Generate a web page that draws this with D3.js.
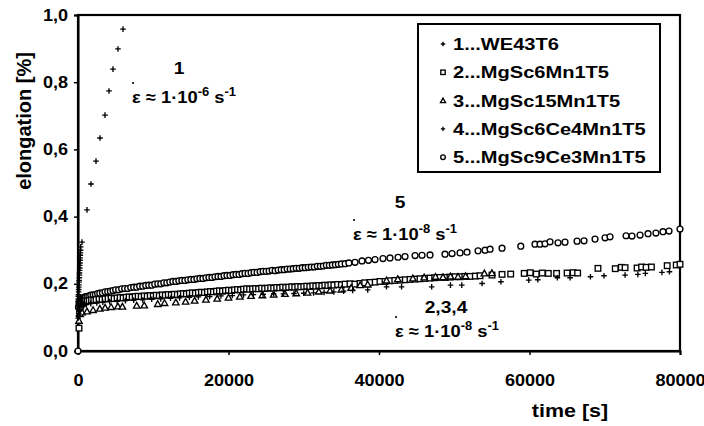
<!DOCTYPE html>
<html><head><meta charset="utf-8">
<script src="https://cdn.jsdelivr.net/npm/d3@7"></script>
<style>
body{margin:0;background:#fff;}
text{font-family:"Liberation Sans",Arial,sans-serif;font-weight:bold;fill:#000;}
</style></head>
<body><svg id="c" width="704" height="426"></svg>
<script>
// ---- data (time [s], elongation [%]) ----
const xTicks = [0, 20000, 40000, 60000, 80000];
const yTicks = [0, 0.2, 0.4, 0.6, 0.8, 1.0];
const legendLabels = ["1...WE43T6","2...MgSc6Mn1T5","3...MgSc15Mn1T5","4...MgSc6Ce4Mn1T5","5...MgSc9Ce3Mn1T5"];
const markerTypes = ["cross","square","triangle","cross","circle"];

const s1_WE43T6 = [[15,0.148],[30,0.155],[45,0.163],[60,0.168],[75,0.176],[90,0.183],[105,0.19],[120,0.197],[135,0.205],[150,0.21],[165,0.218],[180,0.226],[195,0.232],[210,0.24],[225,0.247],[240,0.255],[255,0.262],[270,0.27],[285,0.277],[300,0.285],[320,0.292],[340,0.3],[360,0.31],[532,0.324],[1196,0.42],[1728,0.497],[2392,0.565],[2924,0.634],[3588,0.702],[4120,0.774],[4651,0.839],[5316,0.899],[5980,0.958]];

const s2_MgSc6Mn1T5 = [[130,0.068],[220,0.118],[300,0.13],[400,0.137],[520,0.141],[660,0.143],[820,0.146],[1000,0.148],[1250,0.149],[1500,0.15],[1800,0.152],[2100,0.151],[2400,0.153],[2800,0.154],[3200,0.153],[3600,0.155],[4000,0.156],[4400,0.157],[4800,0.156],[5200,0.158],[5600,0.159],[6000,0.158],[6400,0.16],[6800,0.161],[7200,0.16],[7600,0.162],[8000,0.163],[8400,0.162],[8800,0.164],[9200,0.163],[9600,0.165],[10000,0.164],[10400,0.166],[10800,0.165],[11200,0.167],[11600,0.166],[12000,0.168],[12400,0.167],[12800,0.169],[13200,0.168],[13600,0.17],[14000,0.171],[14400,0.17],[14800,0.172],[15200,0.173],[15600,0.172],[16000,0.174],[16400,0.175],[16800,0.174],[17200,0.176],[17600,0.177],[18000,0.176],[18400,0.178],[18800,0.179],[19200,0.178],[19600,0.18],[20000,0.181],[20400,0.18],[20800,0.182],[21200,0.183],[21600,0.182],[22000,0.184],[22400,0.185],[22800,0.184],[23200,0.185],[23600,0.186],[24000,0.185],[24400,0.187],[24800,0.186],[25200,0.187],[25600,0.188],[26000,0.187],[26400,0.189],[26800,0.188],[27200,0.19],[27600,0.189],[28000,0.19],[28400,0.191],[28800,0.19],[29200,0.192],[29600,0.191],[30000,0.192],[30400,0.193],[30800,0.192],[31200,0.194],[31600,0.193],[32000,0.195],[32400,0.194],[32800,0.196],[33200,0.195],[33600,0.197],[34000,0.196],[34500,0.198],[35000,0.197],[35500,0.199],[36150,0.2],[36800,0.199],[37480,0.201],[38100,0.203],[38800,0.204],[39500,0.205],[40130,0.207],[40800,0.207],[41460,0.209],[42100,0.21],[42800,0.211],[43500,0.212],[44120,0.213],[44800,0.214],[45450,0.215],[46100,0.216],[46780,0.217],[47400,0.218],[48100,0.219],[48800,0.219],[49430,0.22],[50100,0.221],[50770,0.221],[51400,0.222],[52100,0.222],[52800,0.223],[53430,0.224],[55020,0.226],[56350,0.228],[57500,0.229],[59300,0.231],[60100,0.233],[60900,0.229],[61700,0.232],[62500,0.231],[63600,0.231],[65000,0.232],[65800,0.233],[66400,0.232],[69100,0.246],[71400,0.245],[72200,0.249],[72700,0.248],[74300,0.247],[74900,0.25],[75500,0.249],[76200,0.25],[78300,0.254],[79500,0.256],[80000,0.258]];

const s3_MgSc15Mn1T5 = [[130,0.09],[270,0.11],[530,0.115],[1200,0.118],[2000,0.122],[2900,0.126],[3600,0.129],[4400,0.131],[5300,0.133],[5900,0.132],[7800,0.135],[8800,0.136],[10600,0.14],[11500,0.143],[13000,0.145],[14300,0.147],[15500,0.15],[17000,0.153],[18500,0.156],[20000,0.159],[21500,0.162],[23000,0.164],[24500,0.166],[26000,0.168],[27500,0.17],[29000,0.172],[30500,0.174],[32000,0.177],[33500,0.18],[35000,0.183],[36300,0.188],[37500,0.196],[38500,0.198],[41000,0.21],[42500,0.214],[44500,0.216],[46000,0.219],[47500,0.221],[48500,0.22],[49500,0.222],[50500,0.221],[51500,0.223],[54000,0.231],[55000,0.232]];

const s4_MgSc6Ce4Mn1T5 = [[30,0.098],[60,0.105],[90,0.112],[120,0.118],[150,0.124],[200,0.13],[260,0.134],[330,0.138],[450,0.14],[700,0.142],[1100,0.138],[1700,0.141],[2500,0.143],[3300,0.145],[4200,0.147],[5200,0.148],[6300,0.15],[7400,0.151],[8600,0.152],[9800,0.154],[11000,0.155],[12300,0.157],[13500,0.158],[14800,0.16],[16000,0.161],[17500,0.162],[19000,0.164],[20500,0.165],[22000,0.167],[23300,0.168],[24600,0.169],[26000,0.17],[27300,0.17],[28700,0.171],[30000,0.172],[31300,0.173],[32700,0.174],[34000,0.176],[35300,0.178],[36500,0.18],[38500,0.182],[41000,0.191],[43000,0.191],[47000,0.191],[49500,0.196],[51000,0.196],[53700,0.201],[56200,0.206],[59900,0.211],[61100,0.212],[63700,0.218],[65400,0.218],[68100,0.221],[69900,0.224],[72700,0.226],[74400,0.228],[75400,0.231],[77600,0.234],[78600,0.236]];

const s5_MgSc9Ce3Mn1T5 = [[0,0.0],[60,0.13],[130,0.14],[200,0.146],[270,0.149],[350,0.152],[450,0.154],[560,0.157],[700,0.158],[850,0.16],[1000,0.161],[1200,0.162],[1450,0.164],[1700,0.166],[2000,0.167],[2300,0.168],[2600,0.171],[2900,0.172],[3250,0.173],[3600,0.176],[3950,0.177],[4300,0.178],[4650,0.18],[5000,0.182],[5400,0.182],[5800,0.185],[6200,0.186],[6600,0.186],[7000,0.189],[7400,0.19],[7800,0.19],[8200,0.193],[8600,0.193],[9000,0.195],[9400,0.196],[9800,0.196],[10200,0.199],[10600,0.2],[11000,0.2],[11400,0.203],[11800,0.203],[12200,0.205],[12600,0.207],[13000,0.207],[13400,0.209],[13800,0.21],[14200,0.21],[14600,0.212],[15000,0.213],[15400,0.213],[15800,0.215],[16200,0.216],[16600,0.216],[17000,0.218],[17400,0.219],[17800,0.219],[18200,0.221],[18600,0.222],[19000,0.222],[19400,0.224],[19800,0.225],[20200,0.225],[20600,0.227],[21000,0.228],[21400,0.228],[21800,0.23],[22200,0.231],[22600,0.231],[23000,0.233],[23400,0.234],[23800,0.234],[24200,0.236],[24600,0.237],[25000,0.237],[25400,0.238],[25800,0.24],[26200,0.239],[26600,0.241],[27000,0.242],[27400,0.242],[27800,0.244],[28200,0.244],[28600,0.245],[29000,0.246],[29400,0.246],[29800,0.248],[30200,0.248],[30600,0.249],[31000,0.25],[31400,0.25],[31800,0.252],[32200,0.252],[32600,0.253],[33000,0.255],[33400,0.255],[33800,0.256],[34200,0.257],[34600,0.258],[35000,0.259],[35500,0.26],[36000,0.262],[36810,0.264],[37740,0.268],[38600,0.27],[39470,0.272],[40530,0.275],[41460,0.277],[42530,0.279],[43460,0.281],[44790,0.284],[45720,0.285],[46780,0.286],[48770,0.288],[49710,0.29],[50770,0.292],[51700,0.294],[53160,0.298],[54090,0.3],[54760,0.303],[56350,0.306],[58840,0.312],[60730,0.318],[61400,0.318],[62060,0.319],[62730,0.325],[63790,0.322],[64720,0.324],[66320,0.327],[67250,0.328],[68710,0.333],[70040,0.337],[70700,0.34],[72830,0.343],[73620,0.342],[74690,0.345],[75750,0.349],[76800,0.351],[77740,0.355],[78540,0.357],[80000,0.363]];

const seriesData = [s1_WE43T6, s2_MgSc6Mn1T5, s3_MgSc15Mn1T5, s4_MgSc6Ce4Mn1T5, s5_MgSc9Ce3Mn1T5];

// ---- drawing ----
const svg = d3.select("#c");
const SX = 1.13; // horizontal stretch of lettering
const x = d3.scaleLinear().domain([0, 80000]).range([78, 680]);
const y = d3.scaleLinear().domain([0, 1]).range([351, 15]);

function stretch(sel){
  sel.each(function(){
    const t = d3.select(this);
    const ax = +t.attr("x") || 0;
    t.attr("transform", `translate(${ax},0) scale(${SX},1) translate(${-ax},0)`);
  });
}

// axes
const gx = svg.append("g").attr("transform", `translate(0,${y(0)})`)
  .call(d3.axisBottom(x).tickValues(xTicks).tickFormat(d3.format("d")).tickSize(4).tickPadding(20));
const gy = svg.append("g").attr("transform", `translate(${x(0)},0)`)
  .call(d3.axisLeft(y).tickValues(yTicks).tickFormat(d => d.toFixed(1).replace(".", ",")).tickSize(4).tickPadding(6));
[gx, gy].forEach(g => {
  g.select(".domain").attr("stroke", "#000").attr("stroke-width", 2);
  g.selectAll(".tick line").attr("stroke", "#000").attr("stroke-width", 1.5);
  g.selectAll(".tick text").attr("font-size", 16).attr("font-family", "Liberation Sans, Arial, sans-serif").attr("font-weight", "bold").call(stretch);
});
// frame
svg.append("rect").attr("x", x(0)).attr("y", y(1)).attr("width", x(80000) - x(0)).attr("height", y(0) - y(1))
  .attr("fill", "none").attr("stroke", "#000").attr("stroke-width", 2.2);

// markers
const SW = 1.35;
function marker(g, type, s){
  if (type === "cross") {
    g.append("path").attr("d", `M${-s},0H${s}M0,${-s}V${s}`).attr("stroke", "#000").attr("stroke-width", SW).attr("fill", "none");
  } else if (type === "square") {
    g.append("rect").attr("x", -s).attr("y", -s).attr("width", 2*s).attr("height", 2*s).attr("fill", "#fff").attr("stroke", "#000").attr("stroke-width", SW);
  } else if (type === "triangle") {
    g.append("path").attr("d", `M0,${-s*1.15}L${s*1.15},${s*0.9}L${-s*1.15},${s*0.9}Z`).attr("fill", "#fff").attr("stroke", "#000").attr("stroke-width", SW);
  } else {
    g.append("circle").attr("r", s*1.05).attr("fill", "#fff").attr("stroke", "#000").attr("stroke-width", SW);
  }
}
const order = [4, 1, 2, 3, 0];
order.forEach(i => {
  const g = svg.append("g");
  seriesData[i].forEach(p => {
    const m = g.append("g").attr("transform", `translate(${x(p[0])},${y(p[1])})`);
    marker(m, markerTypes[i], 2.8);
  });
});

// axis titles
function label(txt, px, py, size, anchor, sx){
  const g = svg.append("g").attr("transform", `translate(${px},${py}) scale(${sx || SX},1)`);
  return g.append("text").attr("text-anchor", anchor || "start").attr("font-size", size).text(txt);
}
svg.append("g").attr("transform", "translate(31,121) rotate(-90) scale(1,1.05)")
  .append("text").attr("text-anchor", "middle").attr("font-size", 20).text("elongation [%]");
label("time [s]", 570, 417, 19, "middle");

// legend
svg.append("rect").attr("x", 418).attr("y", 24).attr("width", 242).attr("height", 148)
  .attr("fill", "#fff").attr("stroke", "#000").attr("stroke-width", 2);
legendLabels.forEach((l, i) => {
  const by = 50 + i * 28.3;
  marker(svg.append("g").attr("transform", `translate(443,${by - 6})`), markerTypes[i], 2.2);
  label(l, 453, by, 17, "start", 1.18);
});

// strain-rate annotations
function rate(px, py, exp){
  const g = svg.append("g").attr("transform", `translate(${px},${py}) scale(1.08,1)`);
  const t = g.append("text").attr("font-size", 17);
  t.append("tspan").text("ε ≈ 1·10");
  t.append("tspan").attr("dy", -7).attr("font-size", 12).text(exp);
  t.append("tspan").attr("dy", 7).text(" s");
  t.append("tspan").attr("dy", -7).attr("font-size", 12).text("-1");
  g.append("circle").attr("cx", 1).attr("cy", -20).attr("r", 1).attr("fill", "#000");
}
label("1", 179, 74, 17, "middle");
rate(132, 103, "-6");
label("5", 400, 208, 17, "middle");
rate(353, 240, "-8");
label("2,3,4", 446, 313, 17, "middle");
rate(395, 337, "-8");
</script></body></html>
